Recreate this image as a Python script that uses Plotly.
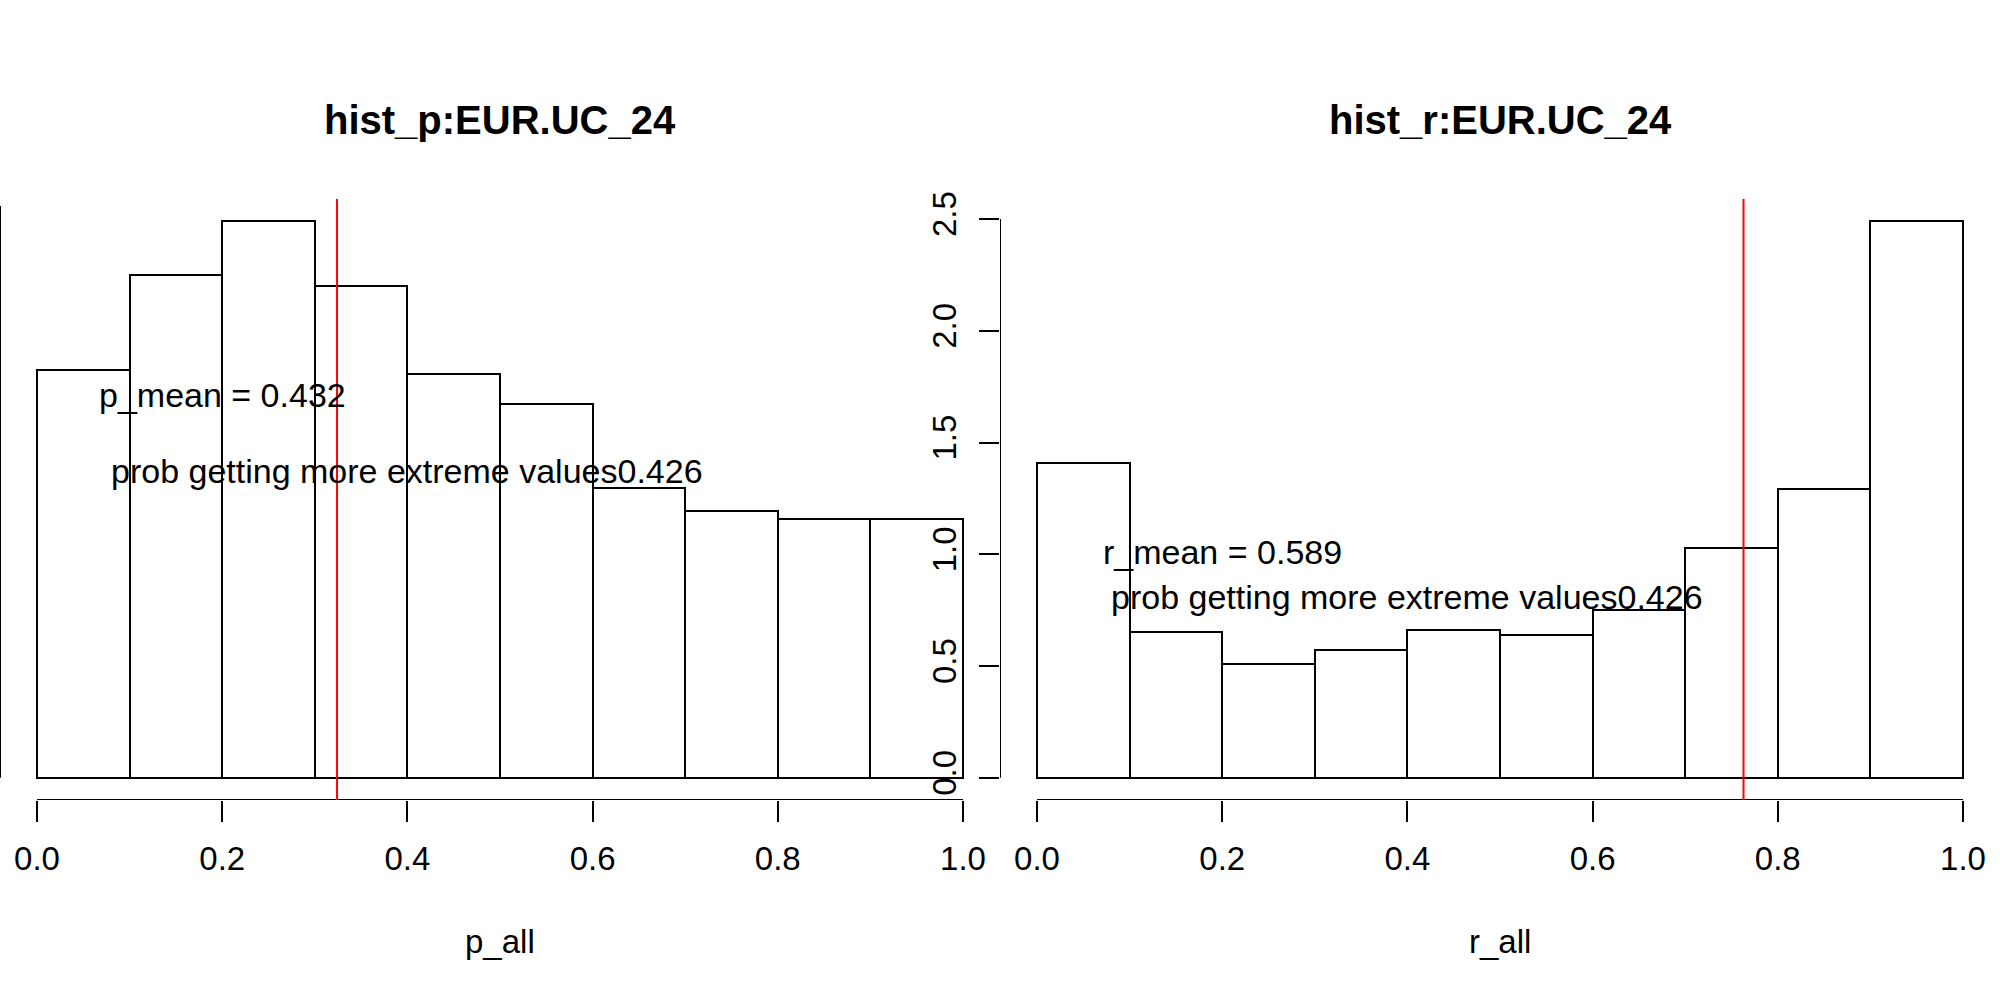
import plotly.graph_objects as go

# ---- data ----
bin_edges = [0.0, 0.1, 0.2, 0.3, 0.4, 0.5, 0.6, 0.7, 0.8, 0.9, 1.0]
p_density = [1.07, 1.32, 1.46, 1.29, 1.06, 0.98, 0.76, 0.70, 0.68, 0.68]
r_density = [1.41, 0.65, 0.51, 0.57, 0.66, 0.64, 0.75, 1.03, 1.29, 2.49]
p_obs = 0.324
r_obs = 0.763
p_title = "hist_p:EUR.UC_24"
r_title = "hist_r:EUR.UC_24"
p_xlabel = "p_all"
r_xlabel = "r_all"
p_mean_text = "p_mean = 0.432"
r_mean_text = "r_mean = 0.589"
prob_text = "prob getting more extreme values0.426"
x_ticks = [0.0, 0.2, 0.4, 0.6, 0.8, 1.0]
y_ticks_r = [0.0, 0.5, 1.0, 1.5, 2.0, 2.5]
y_ticks_p = [0.0, 0.5, 1.0, 1.5]

FONT = "Liberation Sans, Arial, Helvetica, sans-serif"
W, H = 2000, 1000
T, B = 199, 200

centers = [(bin_edges[i] + bin_edges[i + 1]) / 2 for i in range(len(bin_edges) - 1)]
widths = [bin_edges[i + 1] - bin_edges[i] for i in range(len(bin_edges) - 1)]


def r_range(lo, hi):
    d = (hi - lo) * 0.04
    return [lo - d, hi + d]


xr = r_range(bin_edges[0], bin_edges[-1])
yr_p = r_range(0, max(p_density))
yr_r = r_range(0, max(r_density))

fig = go.Figure()
fig.add_trace(go.Bar(x=centers, y=p_density, width=widths, xaxis="x", yaxis="y",
                     marker=dict(color="white", line=dict(color="black", width=2)),
                     showlegend=False, hoverinfo="skip"))
fig.add_trace(go.Bar(x=centers, y=r_density, width=widths, xaxis="x2", yaxis="y2",
                     marker=dict(color="white", line=dict(color="black", width=2)),
                     showlegend=False, hoverinfo="skip"))

xaxis_common = dict(range=xr, showgrid=False, zeroline=False, showline=False,
                    ticks="outside", ticklen=21, tickwidth=2, tickcolor="black",
                    tickvals=x_ticks, tickformat=".1f",
                    tickfont=dict(family=FONT, size=33, color="black"),
                    ticklabelstandoff=8)

fig.update_layout(
    width=W, height=H,
    margin=dict(l=0, r=0, t=T, b=B),
    paper_bgcolor="white", plot_bgcolor="white",
    bargap=0,
    xaxis=dict(domain=[0, 0.5], anchor="y", **xaxis_common),
    xaxis2=dict(domain=[0.5, 1.0], anchor="y2", **xaxis_common),
    yaxis=dict(range=yr_p, domain=[0, 1], anchor="x", showgrid=False, zeroline=False,
               showline=False, showticklabels=False, ticks=""),
    yaxis2=dict(range=yr_r, domain=[0, 1], anchor="x2", showgrid=False, zeroline=False,
                showline=False, ticks="outside", ticklen=20, tickwidth=2, tickcolor="black",
                tickvals=y_ticks_r, tickformat=".1f", tickangle=-90,
                tickfont=dict(family=FONT, size=33, color="black"),
                ticklabelstandoff=10),
)

shapes = []
# axis lines (R style: from first to last tick)
shapes.append(dict(type="line", xref="x", yref="y", x0=x_ticks[0], x1=x_ticks[-1],
                   y0=yr_p[0], y1=yr_p[0], line=dict(color="black", width=2)))
shapes.append(dict(type="line", xref="x2", yref="y2", x0=x_ticks[0], x1=x_ticks[-1],
                   y0=yr_r[0], y1=yr_r[0], line=dict(color="black", width=2)))
shapes.append(dict(type="line", xref="x", yref="y", x0=xr[0], x1=xr[0],
                   y0=y_ticks_p[0], y1=y_ticks_p[-1], line=dict(color="black", width=2)))
shapes.append(dict(type="line", xref="x2", yref="y2", x0=xr[0], x1=xr[0],
                   y0=y_ticks_r[0], y1=y_ticks_r[-1], line=dict(color="black", width=2)))
# observed value lines
shapes.append(dict(type="line", xref="x", yref="y domain", x0=p_obs, x1=p_obs,
                   y0=0, y1=1, line=dict(color="#ff0000", width=2)))
shapes.append(dict(type="line", xref="x2", yref="y2 domain", x0=r_obs, x1=r_obs,
                   y0=0, y1=1, line=dict(color="#ff0000", width=2)))
fig.update_layout(shapes=shapes)

plot_h = H - T - B


def py(pix):
    return (H - B - pix) / plot_h


ann = []
txt_font = dict(family=FONT, size=33, color="black")
note_font = dict(family=FONT, size=34, color="black")
ann.append(dict(text=p_mean_text, xref="x", yref="y", x=0.2, y=1.0, showarrow=False,
                font=note_font, xanchor="center", yanchor="middle", yshift=2))
ann.append(dict(text=prob_text, xref="x", yref="y", x=0.4, y=0.8, showarrow=False,
                font=note_font, xanchor="center", yanchor="middle", yshift=2))
ann.append(dict(text=r_mean_text, xref="x2", yref="y2", x=0.2, y=1.0, showarrow=False,
                font=note_font, xanchor="center", yanchor="middle", yshift=2))
ann.append(dict(text=prob_text, xref="x2", yref="y2", x=0.4, y=0.8, showarrow=False,
                font=note_font, xanchor="center", yanchor="middle", yshift=2))
title_font = dict(family=FONT, size=40, color="black", weight="bold")
ann.append(dict(text="<b>" + p_title + "</b>", xref="paper", yref="paper", x=0.25, y=py(120),
                showarrow=False, font=title_font, xanchor="center", yanchor="middle"))
ann.append(dict(text="<b>" + r_title + "</b>", xref="paper", yref="paper", x=0.75, y=py(120),
                showarrow=False, font=title_font, xanchor="center", yanchor="middle"))
ann.append(dict(text=p_xlabel, xref="paper", yref="paper", x=0.25, y=py(941),
                showarrow=False, font=txt_font, xanchor="center", yanchor="middle"))
ann.append(dict(text=r_xlabel, xref="paper", yref="paper", x=0.75, y=py(941),
                showarrow=False, font=txt_font, xanchor="center", yanchor="middle"))
fig.update_layout(annotations=ann)

fig.write_html("out.html")
